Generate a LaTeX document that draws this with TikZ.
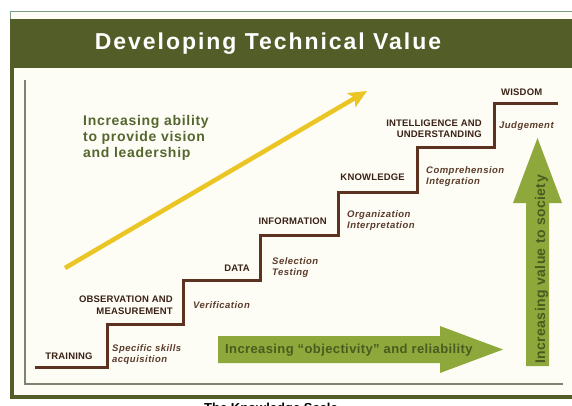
\documentclass[tikz,border=0pt]{standalone}
\usepackage{fontspec}
\setmainfont{Liberation Sans}
\newfontfamily\titlef[LetterSpace=8.5]{Liberation Sans}
\newfontfamily\capf[LetterSpace=2]{Liberation Sans}
\newfontfamily\descf[LetterSpace=5]{Liberation Sans}
\newfontfamily\greenf[LetterSpace=3]{Liberation Sans}
\newfontfamily\leadf[LetterSpace=5]{Liberation Sans}
\usetikzlibrary{arrows.meta}
\definecolor{bandgreen}{HTML}{535D28}
\definecolor{thinframe}{HTML}{7A9C84}
\definecolor{creambg}{HTML}{FDFDF5}
\definecolor{innergray}{HTML}{7C8370}
\definecolor{stairbrown}{HTML}{5E3220}
\definecolor{labelbrown}{HTML}{3B2216}
\definecolor{descbrown}{HTML}{5B3B2B}
\definecolor{yellowline}{HTML}{EBC523}
\definecolor{arrowgreen}{HTML}{8EA83C}
\definecolor{arrowtext}{HTML}{4A5B1F}
\definecolor{leadgreen}{HTML}{55662F}
\begin{document}
\begin{tikzpicture}[x=1pt,y=-1pt,
  capl/.style={font=\capf\bfseries\fontsize{9.5}{11}\selectfont, text=labelbrown, inner sep=0pt},
  desc/.style={font=\descf\bfseries\itshape\fontsize{9.5}{11}\selectfont, text=descbrown, inner sep=0pt},
  leadtext/.style={font=\leadf\bfseries\fontsize{14}{16}\selectfont, text=leadgreen, inner sep=0pt},
  arrowlabel/.style={font=\greenf\bfseries\fontsize{13}{15}\selectfont, text=arrowtext, inner sep=0pt},
  stairline/.style={draw=stairbrown, line width=3pt},
  blockarrow/.style={fill=arrowgreen},
  risearrow/.style={draw=yellowline, line width=4.5pt, -{Stealth[length=18pt,width=16pt,inset=4pt]}}]
\useasboundingbox (0,0) rectangle (572,405);
\fill[white] (0,0) rectangle (572,405);
% frame
\fill[creambg] (11,11) rectangle (572,399);
\draw[thinframe, line width=0.9pt] (10.5,19) -- (10.5,11) -- (572,11);
\fill[bandgreen] (10,19) rectangle (572,68);
\fill[bandgreen] (10,19) rectangle (14,399);
\fill[bandgreen] (10,395) rectangle (572,399);
\draw[innergray, line width=2pt] (25,80) -- (25,384) -- (563,384);
\node[font=\titlef\bfseries\fontsize{23}{26}\selectfont, text=white, anchor=base, inner sep=0pt] (title) at (268,49.3) {Developing Technical Value};
% staircase
\draw[stairline] (35,367) -- (107,367) -- (107,324) -- (183,324) -- (183,280) -- (260,280) -- (260,235) -- (338,235) -- (338,192) -- (417,192) -- (417,147) -- (494,147) -- (494,103) -- (558,103);
% step labels
\node[capl, anchor=base] (training) at (69,359) {TRAINING};
\node[capl, anchor=base east] (obs1) at (173,302.5) {OBSERVATION AND};
\node[capl, anchor=base east] (obs2) at (173,314) {MEASUREMENT};
\node[capl, anchor=base east] (data) at (250,271) {DATA};
\node[capl, anchor=base east] (information) at (327,224) {INFORMATION};
\node[capl, anchor=base east] (knowledge) at (405,180.5) {KNOWLEDGE};
\node[capl, anchor=base east] (intel1) at (482,126) {INTELLIGENCE AND};
\node[capl, anchor=base east] (intel2) at (482,137.5) {UNDERSTANDING};
\node[capl, anchor=base west] (wisdom) at (501,95.5) {WISDOM};
% descriptions
\node[desc, anchor=base west] (skills1) at (112,351.5) {Specific skills};
\node[desc, anchor=base west] (skills2) at (112,362) {acquisition};
\node[desc, anchor=base west] (verif) at (193,308) {Verification};
\node[desc, anchor=base west] (sel1) at (272,264.5) {Selection};
\node[desc, anchor=base west] (sel2) at (272,275.5) {Testing};
\node[desc, anchor=base west] (org1) at (347,217.5) {Organization};
\node[desc, anchor=base west] (org2) at (347,228) {Interpretation};
\node[desc, anchor=base west] (comp1) at (426,173.5) {Comprehension};
\node[desc, anchor=base west] (comp2) at (426,184) {Integration};
\node[desc, anchor=base west] (judge) at (499,128.5) {Judgement};
% leadership text and yellow arrow
\node[leadtext, anchor=base west] (lead1) at (83,125) {Increasing ability};
\node[leadtext, anchor=base west] (lead2) at (83,141) {to provide vision};
\node[leadtext, anchor=base west] (lead3) at (83,157) {and leadership};
\coordinate (ystart) at (65,268);
\coordinate (yend) at (367,91);
\draw[risearrow] (ystart) -- (yend);
% horizontal green arrow
\fill[blockarrow] (218,336) -- (440,336) -- (440,326) -- (503,349.5) -- (440,373) -- (440,363) -- (218,363) -- cycle;
\node[arrowlabel, anchor=base west] (objectivity) at (225,353.3) {Increasing “objectivity” and reliability};
% vertical green arrow
\fill[blockarrow] (526,366) -- (526,203) -- (513,203) -- (537.5,138) -- (562,203) -- (549,203) -- (549,366) -- cycle;
\node[arrowlabel, font=\greenf\bfseries\fontsize{14}{16}\selectfont, rotate=90, anchor=base west] (society) at (545,364) {Increasing value to society};
% caption (cut off at the bottom, as in the reference)
\node[font=\bfseries\fontsize{13}{15}\selectfont, text=black, anchor=base, inner sep=0pt] (caption) at (271,412.5) {The Knowledge Scale};
\end{tikzpicture}
\end{document}
